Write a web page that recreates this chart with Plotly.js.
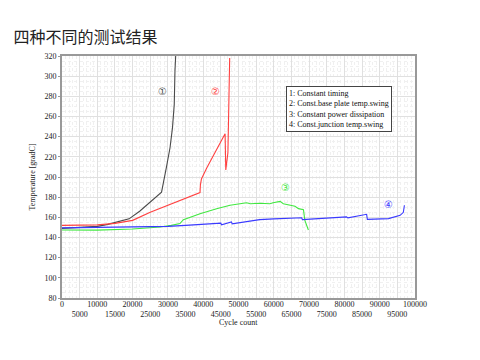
<!DOCTYPE html>
<html>
<head>
<meta charset="utf-8">
<script src="https://cdn.plot.ly/plotly-3.0.1.min.js"></script>
<style>html,body{margin:0;padding:0;background:#fff;}#chart{width:480px;height:360px;}</style>
</head>
<body>
<div id="chart"></div>
<script>
// Series 1: Constant timing
const s1x = [0, 3000, 6000, 10000, 13000, 16000, 19000, 22000, 25000, 28200, 29600, 30600, 31300, 31800, 32000, 32200];
const s1y = [149, 149.5, 150, 151, 153, 155.5, 158.5, 166, 175, 185, 210, 229, 249, 272, 305, 320];
// Series 2: Const.base plate temp.swing
const s2x = [0, 5000, 10000, 15000, 20000, 25000, 30000, 35000, 39100, 39200, 39500, 41000, 43300, 45200, 46200, 46400, 46600, 47000, 47300, 47500];
const s2y = [152, 152, 152.5, 154, 157, 165, 172, 179, 184.5, 192, 198, 209, 224, 236, 243, 207, 215, 224, 280, 318];
// Series 3: Constant power dissipation
const s3x = [0, 10000, 20000, 27800, 31000, 33400, 34400, 36500, 39100, 43800, 47600, 52300, 53300, 56000, 58900, 59800, 61800, 62700, 64500, 66000, 67000, 67700, 68400, 68800, 69800];
const s3y = [147.5, 147.3, 148.5, 150.4, 152, 153.8, 157.7, 160.5, 163.6, 168.6, 171.9, 174.5, 173.5, 174, 173.5, 174.5, 175.8, 173.5, 172.5, 171, 168.6, 168, 167.6, 157, 147.5];
// Series 4: Const.junction temp.swing
const s4x = [0, 10000, 20000, 25000, 30000, 35000, 40000, 43800, 45000, 45200, 47600, 48000, 48200, 53300, 56000, 60000, 64000, 67900, 68100, 71000, 75000, 80600, 81000, 86300, 86500, 90000, 92000, 92500, 95800, 96700, 97000];
const s4y = [149.5, 149.8, 150.1, 150.4, 151, 152, 152.8, 153.5, 154.2, 152.5, 154.5, 155.5, 153.5, 156.4, 157.7, 158.5, 159, 159.6, 157.7, 158.5, 159.3, 160.5, 159.5, 163, 158, 158.7, 159, 158.7, 162, 165, 172];

const seriesNames = ["1: Constant timing", "2: Const.base plate temp.swing", "3: Constant power dissipation", "4: Const.junction temp.swing"];
const seriesColors = ["#4a4a4a", "#ff4040", "#40e840", "#3a3aff"];
const markLabels = ["①", "②", "③", "④"];
const markX = [28600, 43600, 63200, 92600];
const markY = [284.5, 284.5, 189.5, 173];

const xTickVals = [];
const xTickText = [];
for (let v = 0; v <= 100000; v += 5000) {
  xTickVals.push(v);
  xTickText.push(v % 10000 === 0 ? String(v) : "<br>" + v);
}
const yTickVals = [80,100,120,140,160,180,200,220,240,260,280,300,320];

const xs = [s1x, s2x, s3x, s4x];
const ys = [s1y, s2y, s3y, s4y];
const traces = xs.map((x, i) => ({
  x: x, y: ys[i], type: 'scatter', mode: 'lines', name: seriesNames[i],
  line: {color: seriesColors[i], width: 1.1}, showlegend: false
}));

const serif = "Liberation Serif, Times New Roman, serif";
const annotations = markLabels.map((t, i) => ({
  x: markX[i], y: markY[i], xref: 'x', yref: 'y', text: t, showarrow: false,
  font: {family: "DejaVu Sans, Noto Sans CJK SC", size: 10, color: seriesColors[i]}
}));
annotations.push({
  xref: 'paper', yref: 'paper', x: 0.635, y: 0.876, xanchor: 'left', yanchor: 'top',
  text: seriesNames.join("<br>"), align: 'left', showarrow: false,
  font: {family: serif, size: 8, color: '#111'},
  bordercolor: '#444', borderwidth: 1, borderpad: 2, bgcolor: '#fff'
});
annotations.push({
  xref: 'paper', yref: 'paper', x: 0.5, y: -0.102, xanchor: 'center', yanchor: 'middle',
  text: "Cycle count", showarrow: false,
  font: {family: serif, size: 8, color: '#222'}
});

const layout = {
  width: 480, height: 360,
  margin: {l: 62, r: 65, t: 56, b: 62},
  paper_bgcolor: '#fff', plot_bgcolor: '#fff',
  title: {text: "四种不同的测试结果", x: 0.028, xanchor: 'left', xref: 'container',
          y: 0.895, yanchor: 'middle', yref: 'container',
          font: {family: "Noto Sans CJK SC", size: 16, color: '#222'}},
  xaxis: {
    range: [0, 100000], tickvals: xTickVals, ticktext: xTickText, tickangle: 0,
    tickfont: {family: serif, size: 8, color: '#222'}, ticklabelstandoff: -3,
    showgrid: true, gridcolor: '#e0e0e0', gridwidth: 1,
    minor: {dtick: 1000, showgrid: true, gridcolor: '#f0f0f0', griddash: 'dot', gridwidth: 1},
    showline: true, linecolor: '#999', linewidth: 2, mirror: true,
    ticks: '', zeroline: false
  },
  yaxis: {
    range: [80, 320], tickvals: yTickVals,
    tickfont: {family: serif, size: 8, color: '#222'},
    showgrid: true, gridcolor: '#e0e0e0', gridwidth: 1,
    minor: {dtick: 5, showgrid: true, gridcolor: '#f0f0f0', griddash: 'dot', gridwidth: 1},
    showline: true, linecolor: '#999', linewidth: 2, mirror: true,
    ticks: 'outside', ticklen: 2, tickcolor: '#999', zeroline: false,
    title: {text: "Temperature [gradC]", font: {family: serif, size: 8, color: '#222'}, standoff: 8}
  },
  annotations: annotations,
  showlegend: false
};

Plotly.newPlot('chart', traces, layout, {staticPlot: true, displayModeBar: false});
</script>
</body>
</html>
